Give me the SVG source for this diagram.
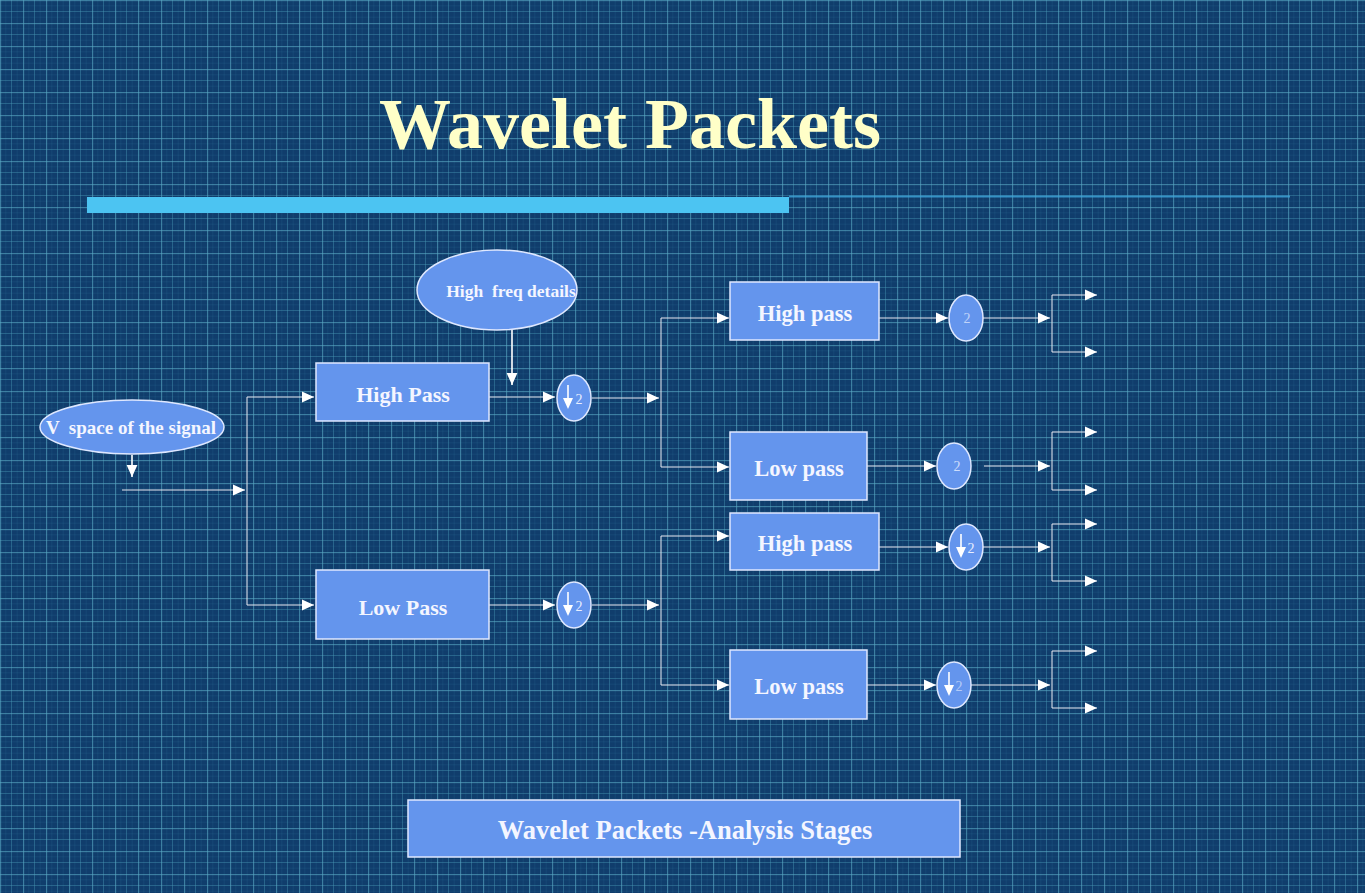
<svg xmlns="http://www.w3.org/2000/svg" width="1365" height="893" viewBox="0 0 1365 893">
<defs>
<pattern id="grid" x="0" y="0" width="23" height="23" patternUnits="userSpaceOnUse">
<rect width="23" height="23" fill="#103d6c"/>
<line x1="5.75" y1="0" x2="5.75" y2="23" stroke="#3a8aa8" stroke-width="1" opacity="0.12"/>
<line x1="17.25" y1="0" x2="17.25" y2="23" stroke="#3a8aa8" stroke-width="1" opacity="0.12"/>
<line x1="0" y1="5.75" x2="23" y2="5.75" stroke="#3a8aa8" stroke-width="1" opacity="0.12"/>
<line x1="0" y1="17.25" x2="23" y2="17.25" stroke="#3a8aa8" stroke-width="1" opacity="0.12"/>
<line x1="11.5" y1="0" x2="11.5" y2="23" stroke="#4a9cb8" stroke-width="1" opacity="0.4"/>
<line x1="0" y1="11.5" x2="23" y2="11.5" stroke="#4a9cb8" stroke-width="1" opacity="0.4"/>
<line x1="0.5" y1="0" x2="0.5" y2="23" stroke="#5aaac4" stroke-width="1.3" opacity="0.6"/>
<line x1="0" y1="0.5" x2="23" y2="0.5" stroke="#5aaac4" stroke-width="1.3" opacity="0.6"/>
</pattern>
<marker id="arrB" viewBox="0 0 10 10" refX="10" refY="5" markerWidth="12" markerHeight="12" markerUnits="userSpaceOnUse" orient="auto">
<path d="M0,0.5 L10,5 L0,9.5 z" fill="#ffffff"/>
</marker>
</defs>
<style>
.box{fill:#6495ed;stroke:#dfe8ff;stroke-width:1.5}
.lbl{font-family:"Liberation Serif","Times New Roman",serif;font-weight:bold;fill:#f4f6ff;text-anchor:middle}
.ln{stroke:#ffffff;stroke-width:1.6;fill:none}
.thin{stroke:#e8e8f0;stroke-width:1;fill:none}
.ds{fill:#6495ed;stroke:#dfe8ff;stroke-width:1.5}
.two{font-family:"Liberation Serif","Times New Roman",serif;font-size:14px;fill:#e8eeff;text-anchor:middle}
.dar{stroke:#ffffff;stroke-width:1.6;fill:none}
</style>
<rect x="0" y="0" width="1365" height="893" fill="url(#grid)"/>

<g id="title">
<text x="630" y="148" font-family="'Liberation Serif','Times New Roman',serif" font-weight="bold" font-size="72" fill="#ffffc8" text-anchor="middle">Wavelet Packets</text>
<rect x="87" y="197" width="702" height="16" fill="#4cc4f2"/>
<line x1="789" y1="196.5" x2="1290" y2="196.5" stroke="#3fa6dc" stroke-width="2" opacity="0.8"/>
</g>

<g id="connectors">
<path class="ln" d="M132,455 V477" marker-end="url(#arrB)"/>
<path class="thin" d="M122,490 H245" marker-end="url(#arrB)"/>
<path class="thin" d="M247,397 V605"/>
<path class="thin" d="M247,397 H314" marker-end="url(#arrB)"/>
<path class="thin" d="M247,605 H314" marker-end="url(#arrB)"/>
<path class="ln" d="M512,330 V385" marker-end="url(#arrB)"/>
<path class="thin" d="M489,397 H555" marker-end="url(#arrB)"/>
<path class="thin" d="M592,398 H659" marker-end="url(#arrB)"/>
<path class="thin" d="M489,605 H555" marker-end="url(#arrB)"/>
<path class="thin" d="M592,605 H659" marker-end="url(#arrB)"/>
<path class="thin" d="M661,318 V467"/>
<path class="thin" d="M661,318 H729" marker-end="url(#arrB)"/>
<path class="thin" d="M661,467 H729" marker-end="url(#arrB)"/>
<path class="thin" d="M661,536 V685"/>
<path class="thin" d="M661,536 H729" marker-end="url(#arrB)"/>
<path class="thin" d="M661,685 H729" marker-end="url(#arrB)"/>
<path class="thin" d="M879,318 H948" marker-end="url(#arrB)"/>
<path class="thin" d="M867,466 H936" marker-end="url(#arrB)"/>
<path class="thin" d="M879,547 H948" stroke-width="0.7" marker-end="url(#arrB)"/>
<path class="thin" d="M867,685 H936" marker-end="url(#arrB)"/>
<path class="thin" d="M983,318 H1050" marker-end="url(#arrB)"/>
<path class="thin" d="M984,466 H1050" marker-end="url(#arrB)"/>
<path class="thin" d="M983,547 H1050" stroke-width="0.7" marker-end="url(#arrB)"/>
<path class="thin" d="M958,685 H1050" marker-end="url(#arrB)"/>
<path class="thin" d="M1052,295 V352"/>
<path class="thin" d="M1052,295 H1097" marker-end="url(#arrB)"/>
<path class="thin" d="M1052,352 H1097" marker-end="url(#arrB)"/>
<path class="thin" d="M1052,432 V490"/>
<path class="thin" d="M1052,432 H1097" marker-end="url(#arrB)"/>
<path class="thin" d="M1052,490 H1097" marker-end="url(#arrB)"/>
<path class="thin" d="M1052,524 V581"/>
<path class="thin" d="M1052,524 H1097" marker-end="url(#arrB)"/>
<path class="thin" d="M1052,581 H1097" marker-end="url(#arrB)"/>
<path class="thin" d="M1052,651 V708"/>
<path class="thin" d="M1052,651 H1097" marker-end="url(#arrB)"/>
<path class="thin" d="M1052,708 H1097" marker-end="url(#arrB)"/>
</g>

<g id="v-space">
<ellipse class="box" cx="132" cy="427" rx="92" ry="27"/>
<text class="lbl" x="131" y="434" font-size="19" xml:space="preserve">V  space of the signal</text>
</g>
<g id="high-freq-details">
<ellipse class="box" cx="497" cy="290" rx="80" ry="40"/>
<text class="lbl" x="511" y="297" font-size="17.5" xml:space="preserve">High  freq details</text>
</g>
<g id="high-pass-1">
<rect class="box" x="316" y="363" width="173" height="58"/>
<text class="lbl" x="403" y="402" font-size="22">High Pass</text>
</g>
<g id="low-pass-1">
<rect class="box" x="316" y="570" width="173" height="69"/>
<text class="lbl" x="403" y="615" font-size="22">Low Pass</text>
</g>
<g id="ds-1">
<ellipse class="ds" cx="574" cy="398" rx="17" ry="23"/>
<path class="dar" d="M568,385 V401"/>
<path d="M563,398 L573,398 L568,409 z" fill="#ffffff"/>
<text class="two" x="579" y="404">2</text>
</g>
<g id="ds-2">
<ellipse class="ds" cx="574" cy="605" rx="17" ry="23"/>
<path class="dar" d="M568,592 V608"/>
<path d="M563,605 L573,605 L568,616 z" fill="#ffffff"/>
<text class="two" x="579" y="611">2</text>
</g>
<g id="high-pass-2a">
<rect class="box" x="730" y="282" width="149" height="58"/>
<text class="lbl" x="805" y="321" font-size="22.5">High pass</text>
</g>
<g id="low-pass-2a">
<rect class="box" x="730" y="432" width="137" height="68"/>
<text class="lbl" x="799" y="476" font-size="22.5">Low pass</text>
</g>
<g id="high-pass-2b">
<rect class="box" x="730" y="513" width="149" height="57"/>
<text class="lbl" x="805" y="551" font-size="22.5">High pass</text>
</g>
<g id="low-pass-2b">
<rect class="box" x="730" y="650" width="137" height="69"/>
<text class="lbl" x="799" y="694" font-size="22.5">Low pass</text>
</g>
<g id="ds-3">
<ellipse class="ds" cx="966" cy="318" rx="17" ry="23"/>
<text class="two" x="967" y="323" font-size="12" opacity="0.7">2</text>
</g>
<g id="ds-4">
<ellipse class="ds" cx="954" cy="466" rx="17" ry="23"/>
<text class="two" x="957" y="471" opacity="0.8">2</text>
</g>
<g id="ds-5">
<ellipse class="ds" cx="966" cy="547" rx="17" ry="23"/>
<path class="dar" d="M961,534 V550"/>
<path d="M956,547 L966,547 L961,558 z" fill="#ffffff"/>
<text class="two" x="971" y="553">2</text>
</g>
<g id="ds-6">
<ellipse class="ds" cx="954" cy="685" rx="17" ry="23"/>
<path class="dar" d="M949,672 V688"/>
<path d="M944,685 L954,685 L949,696 z" fill="#ffffff"/>
<text class="two" x="959" y="691" opacity="0.6">2</text>
</g>
<g id="caption">
<rect class="box" x="408" y="800" width="552" height="57"/>
<text class="lbl" x="685" y="839" font-size="26.5">Wavelet Packets -Analysis Stages</text>
</g>
</svg>
